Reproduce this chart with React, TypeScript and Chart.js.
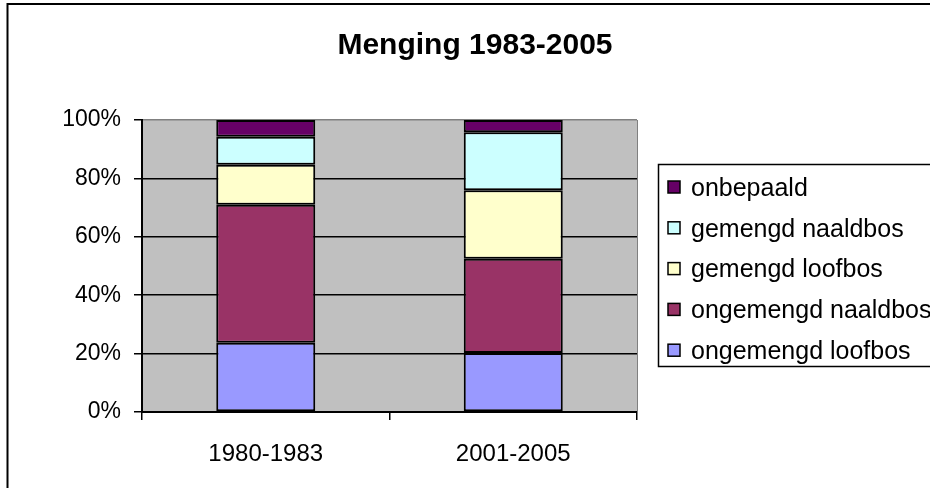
import React, { useEffect, useRef } from "react";
import { Chart, registerables } from "chart.js";

Chart.register(...registerables);

const categories = ["1980-1983", "2001-2005"];
const ongemengdLoofbos = [23.7, 20.2];
const ongemengdNaaldbos = [47.3, 32.3];
const gemengdLoofbos = [13.7, 23.4];
const gemengdNaaldbos = [9.6, 19.9];
const onbepaald = [5.7, 4.2];
const yTicks = [0, 20, 40, 60, 80, 100];
const title = "Menging 1983-2005";

const FONT = "'Liberation Sans', Arial, sans-serif";

const framePlugin = {
  id: "frame",
  beforeDraw(chart: any) {
    const { ctx, chartArea } = chart;
    ctx.save();
    ctx.fillStyle = "#ffffff";
    ctx.fillRect(0, 0, chart.width, chart.height);
    ctx.fillStyle = "#C0C0C0";
    ctx.fillRect(chartArea.left, chartArea.top, chartArea.right - chartArea.left, chartArea.bottom - chartArea.top);
    ctx.restore();
  },
  afterDraw(chart: any) {
    const { ctx, chartArea } = chart;
    ctx.save();
    ctx.strokeStyle = "#808080";
    ctx.lineWidth = 1;
    ctx.beginPath();
    ctx.moveTo(chartArea.right + 0.5, chartArea.top);
    ctx.lineTo(chartArea.right + 0.5, chartArea.bottom);
    ctx.stroke();
    ctx.strokeStyle = "#000000";
    ctx.lineWidth = 2;
    ctx.strokeRect(7.5, 4, 1000, 1000);
    ctx.fillStyle = "#000";
    ctx.font = `bold 30px ${FONT}`;
    ctx.textAlign = "center";
    ctx.textBaseline = "middle";
    ctx.fillText(title, 475, 46);
    const lx = 658, ly = 164, lw = 400, lh = 202;
    ctx.lineWidth = 1.5;
    ctx.strokeStyle = "#000";
    ctx.fillStyle = "#fff";
    ctx.fillRect(lx, ly, lw, lh);
    ctx.strokeRect(lx + 0.5, ly + 0.5, lw, lh);
    const ds = chart.data.datasets.slice().reverse();
    ctx.font = `25px ${FONT}`;
    ctx.textAlign = "left";
    ds.forEach((d: any, i: number) => {
      const cy = 188 + i * 40.8;
      ctx.fillStyle = d.backgroundColor;
      ctx.fillRect(668, cy - 7, 12, 12);
      ctx.lineWidth = 1.5;
      ctx.strokeStyle = "#000";
      ctx.strokeRect(668, cy - 7, 12, 12);
      ctx.fillStyle = "#000";
      ctx.fillText(d.label, 691, cy + 1);
    });
    ctx.restore();
  },
};

export default function App() {
  const ref = useRef<HTMLCanvasElement>(null);
  useEffect(() => {
    document.body.style.margin = "0";
    const mk = (label: string, data: number[], color: string) => ({
      label,
      data,
      backgroundColor: color,
      borderColor: "#000000",
      borderWidth: 2,
      borderSkipped: false,
      categoryPercentage: 1,
      barPercentage: 0.4,
    });
    const chart = new Chart(ref.current!, {
      type: "bar",
      data: {
        labels: categories,
        datasets: [
          mk("ongemengd loofbos", ongemengdLoofbos, "#9999FF"),
          mk("ongemengd naaldbos", ongemengdNaaldbos, "#993366"),
          mk("gemengd loofbos", gemengdLoofbos, "#FFFFCC"),
          mk("gemengd naaldbos", gemengdNaaldbos, "#CCFFFF"),
          mk("onbepaald", onbepaald, "#660066"),
        ],
      },
      options: {
        animation: false,
        responsive: false,
        layout: { padding: { top: 120, right: 293, left: 0, bottom: 0 } },
        plugins: { legend: { display: false }, title: { display: false }, tooltip: { enabled: false } },
        scales: {
          x: {
            stacked: true,
            offset: true,
            grid: { display: true, drawOnChartArea: false, offset: true, tickLength: 8, color: "#000", lineWidth: 1.5 },
            border: { display: true, color: "#000", width: 2 },
            ticks: { color: "#000", font: { family: FONT, size: 24 }, padding: 20, maxRotation: 0 },
            afterFit: (s: any) => { s.height = 76; },
          },
          y: {
            stacked: true,
            min: 0,
            max: 100,
            afterBuildTicks: (s: any) => { s.ticks = yTicks.map((v) => ({ value: v })); },
            grid: {
              color: (c: any) => (c.tick && c.tick.value === 100 ? "#808080" : "#000"),
              tickColor: "#000",
              lineWidth: 1.5,
              tickLength: 8,
            },
            border: { display: true, color: "#000", width: 2 },
            ticks: { color: "#000", font: { family: FONT, size: 23 }, padding: 13, callback: (v: any) => v + "%" },
            afterFit: (s: any) => { s.width = 142; },
          },
        },
      },
      plugins: [framePlugin],
    });
    return () => chart.destroy();
  }, []);
  return <canvas ref={ref} width={930} height={488} style={{ display: "block" }} />;
}
